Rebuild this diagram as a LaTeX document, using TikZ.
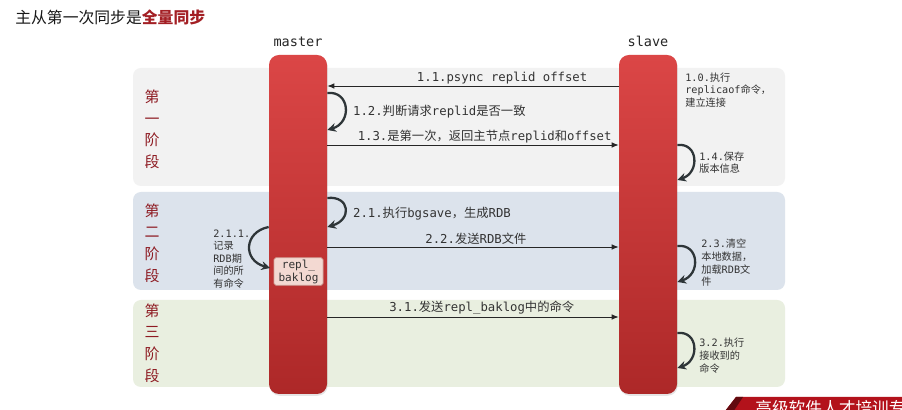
\documentclass[tikz,border=0pt]{standalone}
\usepackage{fontspec}
\setmonofont{DejaVu Sans Mono}
\newfontfamily\cjk{Noto Sans CJK SC}
\usetikzlibrary{arrows.meta, positioning, shadows}
\definecolor{bartop}{HTML}{DB4646}
\definecolor{barbottom}{HTML}{AD2828}
\definecolor{bandone}{HTML}{F2F2F2}
\definecolor{bandtwo}{HTML}{DCE3EC}
\definecolor{bandthree}{HTML}{E9EFE0}
\definecolor{phasered}{HTML}{8E1B22}
\definecolor{labelgray}{HTML}{333333}
\definecolor{loopgray}{HTML}{2E3538}
\definecolor{bakfill}{HTML}{F3D9D2}
\definecolor{bakborder}{HTML}{D2A79E}
\definecolor{titlered}{HTML}{A31F24}
\definecolor{bannerred}{HTML}{B3121B}
\newcommand{\mono}[1]{{\ttfamily #1}}

\begin{document}
\begin{tikzpicture}[
    bar/.style={rounded corners=0.2cm, top color=bartop, bottom color=barbottom,
      minimum width=1.16cm, minimum height=6.78cm, inner sep=0pt,
      drop shadow={opacity=0.2, shadow xshift=0.4pt, shadow yshift=-1pt}},
    band/.style={rounded corners=0.16cm},
    phase/.style={font=\cjk\fontsize{8.5}{12.3}\selectfont, text=phasered, align=center},
    actor/.style={font=\ttfamily\fontsize{7.7}{9}\selectfont, text=black!85},
    msg/.style={draw=black!85, line width=0.5pt, -{Latex[length=4pt,width=3.2pt]}},
    msglabel/.style={font=\cjk\fontsize{7}{8.5}\selectfont, text=labelgray, inner sep=1pt},
    selfarrow/.style={draw=loopgray, line width=1.3pt, -{Stealth[length=5pt,width=5pt]}},
    note/.style={font=\cjk\fontsize{5.8}{7.2}\selectfont, text=labelgray, align=left,
      anchor=west, inner sep=0pt},
    bakbox/.style={fill=bakfill, draw=bakborder, rounded corners=1pt, minimum width=0.98cm,
      minimum height=0.54cm, inner sep=1pt, align=center, text=labelgray,
      font=\ttfamily\fontsize{6.3}{7.4}\selectfont,
      drop shadow={opacity=0.15, shadow xshift=0.3pt, shadow yshift=-0.6pt}}
  ]
    \useasboundingbox (0,0) rectangle (18.04,8.2);
    \fill[white] (0,0) rectangle (18.04,8.2);

    % Titre
    \node[anchor=west, inner sep=0pt, font=\cjk\fontsize{9}{11}\selectfont, text=black!90] (title)
      at (0.30,7.86) {主从第一次同步是\textbf{\color{titlered}全量同步}};

    % Phases
    \fill[band, bandone] (2.66,4.48) rectangle (15.70,6.84);
    \fill[band, bandtwo] (2.66,2.40) rectangle (15.70,4.36);
    \fill[band, bandthree] (2.66,0.46) rectangle (15.70,2.20);
    \node[phase] (p1) at (3.04,5.61) {第\\一\\阶\\段};
    \node[phase] (p2) at (3.04,3.34) {第\\二\\阶\\段};
    \node[phase] (p3) at (3.04,1.34) {第\\三\\阶\\段};

    % Master / slave
    \node[bar] (master) at (5.96,3.71) {};
    \node[bar] (slave) at (12.96,3.71) {};
    \node[actor, above=1pt of master] (mastername) {master};
    \node[actor, above=1pt of slave] (slavename) {slave};

    % Niveaux des messages
    \coordinate (l11) at (0,6.48);
    \coordinate (l13) at (0,5.30);
    \coordinate (l22) at (0,3.26);
    \coordinate (l31) at (0,1.86);

    % Premier stade
    \draw[msg] (slave.west |- l11) -- node[msglabel, above, pos=0.40] (t11)
      {\mono{1.1.psync replid offset}} (master.east |- l11);
    \draw[selfarrow] ([yshift=2.63cm]master.east) .. controls +(0.45,0.05) and +(0.5,0.15)
      .. ([yshift=1.89cm]master.east);
    \node[msglabel, anchor=west] (t12) at (7.02,5.96) {\mono{1.2.}判断请求\mono{replid}是否一致};
    \draw[msg] (master.east |- l13) -- node[msglabel, above, pos=0.54] (t13)
      {\mono{1.3.}是第一次，返回主节点\mono{replid}和\mono{offset}} (slave.west |- l13);
    \node[note] (n10) at (13.70,6.40) {\mono{1.0.}执行\\\mono{replicaof}命令，\\建立连接};
    \draw[selfarrow] ([yshift=1.59cm]slave.east) .. controls +(0.42,0.05) and +(0.45,0.15)
      .. ([yshift=0.89cm]slave.east);
    \node[note] (n14) at (13.98,4.95) {\mono{1.4.}保存\\版本信息};

    % Deuxieme stade
    \draw[selfarrow] ([yshift=0.53cm]master.east) .. controls +(0.45,0.05) and +(0.5,0.15)
      .. ([yshift=-0.05cm]master.east);
    \node[msglabel, anchor=west] (t21) at (7.02,3.92) {\mono{2.1.}执行\mono{bgsave}，生成\mono{RDB}};
    \node[bakbox] (bak) at (5.97,2.77) {repl\_\\baklog};
    \draw[selfarrow] ([yshift=-0.05cm]master.west) .. controls +(-0.5,-0.1) and +(-0.55,0.15)
      .. ([xshift=-2pt, yshift=0.07cm]bak.west);
    \node[note] (n211) at (4.26,3.02) {\mono{2.1.1.}\\记录\\\mono{RDB}期\\间的所\\有命令};
    \draw[msg] (master.east |- l22) -- node[msglabel, above, pos=0.51] (t22)
      {\mono{2.2.}发送\mono{RDB}文件} (slave.west |- l22);
    \draw[selfarrow] ([yshift=-0.43cm]slave.east) .. controls +(0.44,0.05) and +(0.47,0.15)
      .. ([yshift=-1.15cm]slave.east);
    \node[note] (n23) at (14.02,2.94) {\mono{2.3.}清空\\本地数据，\\加载\mono{RDB}文\\件};

    % Troisieme stade
    \draw[msg] (master.east |- l31) -- node[msglabel, above, pos=0.53] (t31)
      {\mono{3.1.}发送\mono{repl\_baklog}中的命令} (slave.west |- l31);
    \draw[selfarrow] ([yshift=-2.17cm]slave.east) .. controls +(0.42,0.05) and +(0.45,0.15)
      .. ([yshift=-2.87cm]slave.east);
    \node[note] (n32) at (13.98,1.09) {\mono{3.2.}执行\\接收到的\\命令};

    % Bandeau
    \begin{scope}
      \clip (0,0) rectangle (18.04,8.2);
      \fill[bannerred] (14.44,-0.1) -- (14.72,0.26) -- (18.1,0.26) -- (18.1,-0.1) -- cycle;
      \fill[bannerred!55!black] (14.44,-0.1) -- (14.72,0.26) -- (14.86,0.26) -- (14.62,-0.1) -- cycle;
      \node[anchor=west, inner sep=0pt, font=\cjk\fontsize{9.5}{11}\selectfont, text=white] (banner)
        at (15.10,0.03) {高级软件人才培训专家};
    \end{scope}
  \end{tikzpicture}
\end{document}
